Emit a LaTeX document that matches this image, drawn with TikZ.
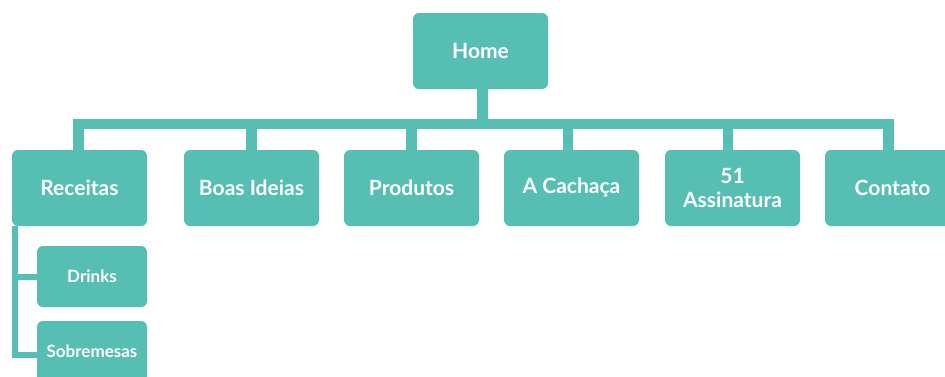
\documentclass[tikz,border=0pt]{standalone}
\usepackage{fontspec}
\setmainfont{Lato}
\definecolor{teal1}{HTML}{56BEB2}
\tikzset{
  box/.style={fill=teal1, rounded corners=6pt, text=white, font=\bfseries\fontsize{21}{24}\selectfont,
    minimum width=135pt, minimum height=76pt, inner sep=0pt, align=center},
  subbox/.style={box, minimum width=110pt, minimum height=61pt, font=\bfseries\fontsize{17}{20}\selectfont},
  conn/.style={draw=teal1, line width=10.5pt, line join=miter},
  subconn/.style={draw=teal1, line width=6pt, line join=miter}
}
\begin{document}
\begin{tikzpicture}[x=1pt,y=-1pt]
\useasboundingbox (0,0) rectangle (945,376);
\fill[white] (0,0) rectangle (945,376);
\node[box] (home) at (480.5,51) {Home};
\node[box] (receitas) at (79.5,188) {Receitas};
\node[box] (boas) at (251.5,188) {Boas Ideias};
\node[box] (produtos) at (411.5,188) {Produtos};
\node[box] (cachaca) at (571.5,188) {A Cachaça};
\node[box] (assin) at (732.5,188) {51\\Assinatura};
\node[box] (contato) at (892.5,188) {Contato};
\node[subbox] (drinks) at (92,276.5) {Drinks};
\node[subbox] (sobre) at (92,351.5) {Sobremesas};
\coordinate (bar) at (0,124);
\draw[conn] ([xshift=-1pt]receitas.north) -- ([xshift=-1pt]receitas.north |- bar) -- ([xshift=-4pt]contato.north |- bar) -- ([xshift=-4pt]contato.north);
\draw[conn] ([xshift=2pt]home.south) -- ([xshift=2pt]home.south |- bar);
\draw[conn] (boas.north) -- (boas.north |- bar);
\draw[conn] (produtos.north) -- (produtos.north |- bar);
\draw[conn] ([xshift=-3.5pt]cachaca.north) -- ([xshift=-3.5pt]cachaca.north |- bar);
\draw[conn] ([xshift=-4.5pt]assin.north) -- ([xshift=-4.5pt]assin.north |- bar);
\draw[subconn] ([xshift=3pt]receitas.south west) -- ([xshift=3pt,yshift=-3pt]receitas.south west |- sobre.west) -- ([yshift=-3pt]sobre.west);
\draw[subconn] ([xshift=3pt]receitas.south west |- drinks.west) -- (drinks.west);
\end{tikzpicture}
\end{document}
